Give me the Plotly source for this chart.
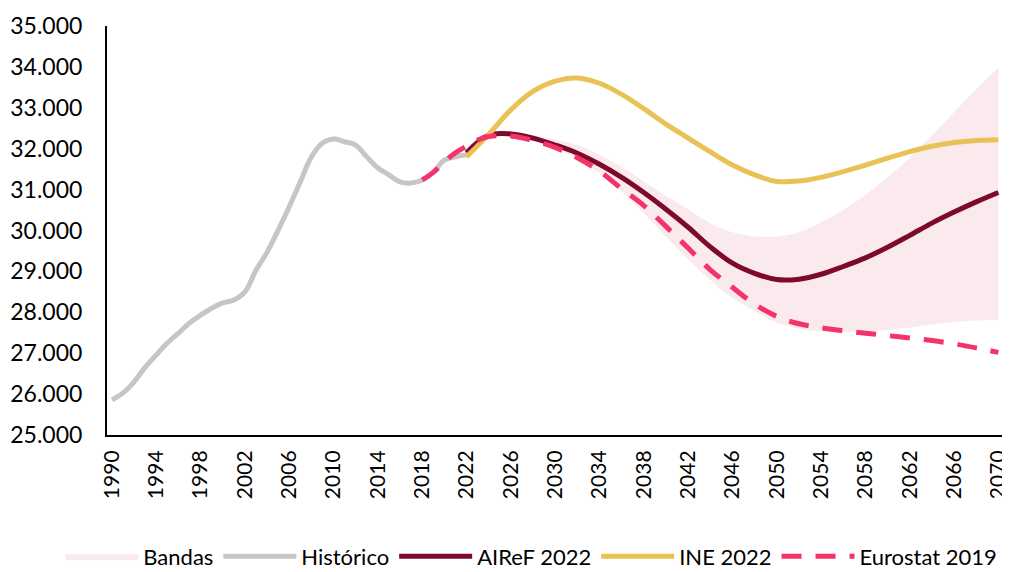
import plotly.graph_objects as go

# ---- data ----
hist_years = list(range(1990, 2023))
hist_values = [25860, 26030, 26300, 26660, 26960, 27250, 27490, 27740, 27930, 28100,
               28230, 28300, 28500, 29030, 29470, 30010, 30580, 31190, 31800, 32140,
               32240, 32170, 32090, 31800, 31530, 31360, 31190, 31160, 31235, 31430,
               31720, 31800, 31850]

proj_years = list(range(2022, 2071, 2))
ine_values = [31800, 32350, 32950, 33400, 33650, 33730, 33600, 33330, 32980, 32600,
              32260, 31920, 31600, 31360, 31200, 31210, 31300, 31440, 31600, 31770,
              31930, 32060, 32150, 32200, 32220]
airef_values = [31900, 32330, 32360, 32260, 32090, 31890, 31620, 31300, 30930, 30520,
                30080, 29600, 29200, 28950, 28800, 28810, 28930, 29120, 29330, 29590,
                29880, 30180, 30450, 30700, 30930]
band_upper = [31900, 32380, 32400, 32330, 32230, 32090, 31850, 31550, 31200, 30850,
              30520, 30180, 29960, 29860, 29850, 29960, 30200, 30500, 30870, 31300,
              31780, 32320, 32900, 33450, 33980]
band_lower = [31850, 32300, 32290, 32180, 32000, 31750, 31400, 30950, 30420, 29850,
              29300, 28790, 28350, 28030, 27750, 27600, 27530, 27520, 27540, 27570,
              27630, 27700, 27760, 27800, 27810]

euro_years = [2018, 2019, 2020, 2021, 2022, 2023, 2024] + list(range(2026, 2071, 2))
euro_values = [31235, 31420, 31680, 31900, 32060, 32210, 32300,
               32310, 32200, 32030, 31780, 31450, 31020, 30610, 30100, 29570, 29040,
               28610, 28200, 27900, 27720, 27620, 27550, 27490, 27430, 27370, 27310,
               27230, 27130, 27020]

x_ticks = list(range(1990, 2071, 4))
y_ticks = list(range(25000, 35001, 1000))

FONT = "Lato"

fig = go.Figure()

fig.add_trace(go.Scatter(x=proj_years, y=band_lower, mode="lines", line=dict(width=0, shape="spline"),
                         showlegend=False, hoverinfo="skip"))
fig.add_trace(go.Scatter(x=proj_years, y=band_upper, mode="lines", line=dict(width=0, shape="spline"),
                         fill="tonexty", fillcolor="#FAEAEE", name="Bandas"))
fig.add_trace(go.Scatter(x=hist_years, y=hist_values, mode="lines",
                         line=dict(color="#C6C6C6", width=5, shape="spline"), name="Histórico"))
fig.add_trace(go.Scatter(x=proj_years, y=airef_values, mode="lines",
                         line=dict(color="#7D0A2C", width=5, shape="spline"), name="AIReF 2022"))
fig.add_trace(go.Scatter(x=proj_years, y=ine_values, mode="lines",
                         line=dict(color="#E9C255", width=5, shape="spline"), name="INE 2022"))
fig.add_trace(go.Scatter(x=euro_years, y=euro_values, mode="lines",
                         line=dict(color="#F5336B", width=5, shape="spline", dash="20px,14px"),
                         name="Eurostat 2019"))

# The page body has an 8px margin, so the figure is sized to fit the 1010x572 window.
fig.update_layout(
    width=1002, height=564,
    margin=dict(l=99, r=5, t=18, b=137, autoexpand=False),
    paper_bgcolor="white", plot_bgcolor="white",
    font=dict(family=FONT, size=22, color="#000000"),
    separators=",.",
    showlegend=True,
    legend=dict(orientation="h", xref="paper", yref="paper", traceorder="normal",
                x=-0.052, xanchor="left", y=-0.348, yanchor="bottom",
                font=dict(size=22), itemwidth=73, bgcolor="rgba(0,0,0,0)"),
)
fig.update_xaxes(range=[1989.55, 2070.6], tickvals=x_ticks, tickangle=-90, automargin=False,
                 ticklabeloverflow="allow", ticklabelstandoff=5,
                 showgrid=False, zeroline=False, showline=True, linecolor="#000000", linewidth=2,
                 ticks="", tickfont=dict(size=21))
fig.update_yaxes(range=[25000, 35000], tickvals=y_ticks, tickformat=",.0f", automargin=False,
                 ticklabeloverflow="allow",
                 showgrid=False, zeroline=False, showline=True, linecolor="#000000", linewidth=2,
                 ticks="", ticklabelstandoff=18, tickfont=dict(size=23))

fig.write_html("out.html")
